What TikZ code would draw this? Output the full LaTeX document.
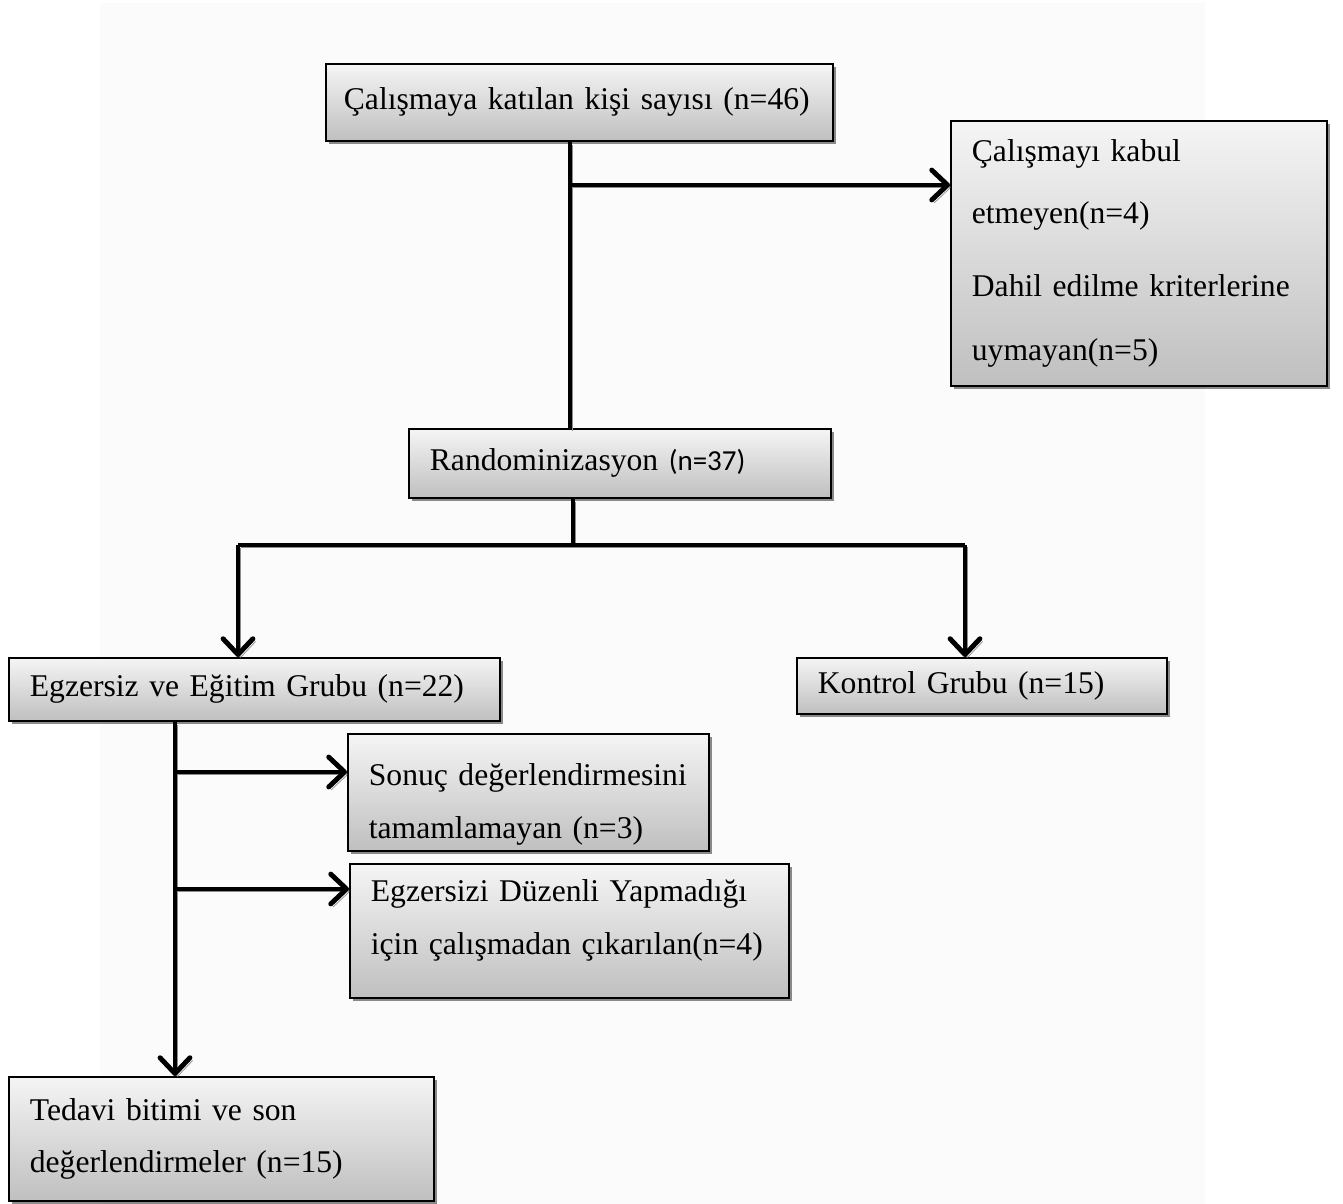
\documentclass[tikz,border=0pt]{standalone}
\usepackage{fontspec}
\setmainfont{Liberation Serif}
\newfontfamily\calibri{Carlito}
\usetikzlibrary{shapes,arrows.meta,positioning,shadows}
\definecolor{boxtop}{rgb}{.96,.96,.96}
\definecolor{boxbot}{rgb}{.75,.75,.75}
\definecolor{backgr}{rgb}{.985,.985,.985}

\begin{document}
\begin{tikzpicture}[% pixel grid of the scanned chart, y runs downwards
      x=0.02cm,y=-0.02cm,
      every node/.style={
        align=left,       % use this so that the "\\" for line break works
        anchor=north west,
        inner xsep=0.42cm,
        font=\fontsize{18}{30}\selectfont
      },
      box/.style={rectangle,draw=black,line width=1pt,
        top color=boxtop,bottom color=boxbot,
        drop shadow={shadow xshift=2pt,shadow yshift=-2pt,fill=black,opacity=.45}},
      conn/.style={line width=2.8pt,
        preaction={draw=black!45,transform canvas={xshift=1.5pt,yshift=-1.6pt}}},
      arr/.style={conn,-{Straight Barb[length=9pt,width=17pt,line cap=round,line join=round]}}
    ]
    \useasboundingbox (0,0) rectangle (1343,1204);
    \fill[backgr] (100,3) rectangle (1205,1204);
    % boxes
    \node[box,inner xsep=0.36cm,text width=9.42cm,minimum height=1.54cm](R1) at (325,63){\c{C}al\i\c{s}maya kat\i lan ki\c{s}i say\i s\i{} (n=46)};
    \node[box,text width=6.68cm,minimum height=5.3cm](R2) at (950,120){\c{C}al\i\c{s}may\i{} kabul \\[5pt] etmeyen(n=4) \\[12pt] Dahil edilme kriterlerine \\[6pt] uymayan(n=5)};
    \node[box,text width=7.6cm,minimum height=1.38cm](R3) at (408,428){Randominizasyon {\calibri\fontsize{16.5}{20}\selectfont(n=37)}};
    \node[box,text width=8.98cm,minimum height=1.26cm](R4) at (8,657){Egzersiz ve E\u{g}itim Grubu (n=22)};
    \node[box,text width=6.56cm,minimum height=1.12cm](R5) at (796,657){Kontrol Grubu (n=15)};
    \node[box,text width=6.38cm,minimum height=2.3cm](R6) at (347,733){\rule{0pt}{26pt}Sonu\c{c} de\u{g}erlendirmesini \\ tamamlamayan (n=3)};
    \node[box,text width=7.94cm,minimum height=2.68cm](R7) at (349,863){Egzersizi D\"uzenli Yapmad\i\u{g}\i \\ i\c{c}in \c{c}al\i\c{s}madan \c{c}\i kar\i lan(n=4)\\[-14pt]\mbox{}};
    \node[box,text width=7.66cm,minimum height=2.48cm](R8) at (8,1076){Tedavi bitimi ve son \\ de\u{g}erlendirmeler (n=15)};
    % junctions
    \coordinate (J1) at (570,185);
    \coordinate (J2) at (573,545);
    \coordinate (JL) at (238,545);
    \coordinate (JR) at (965,545);
    \coordinate (J3) at (175,772);
    \coordinate (J4) at (175,889);
    % connectors
    \draw[conn] (R1.south -| J1) -- (R3.north -| J1);
    \draw[arr] (J1) -- (J1 -| R2.west);
    \draw[conn] (R3.south -| J2) -- (J2);
    \draw[conn] (JL) -- (JR);
    \draw[arr] (JL) -- (JL |- R4.north);
    \draw[arr] (JR) -- (JR |- R5.north);
    \draw[arr] (R4.south -| J3) -- (R8.north -| J3);
    \draw[arr] (J3) -- (J3 -| R6.west);
    \draw[arr] (J4) -- (J4 -| R7.west);
  \end{tikzpicture}
\end{document}
